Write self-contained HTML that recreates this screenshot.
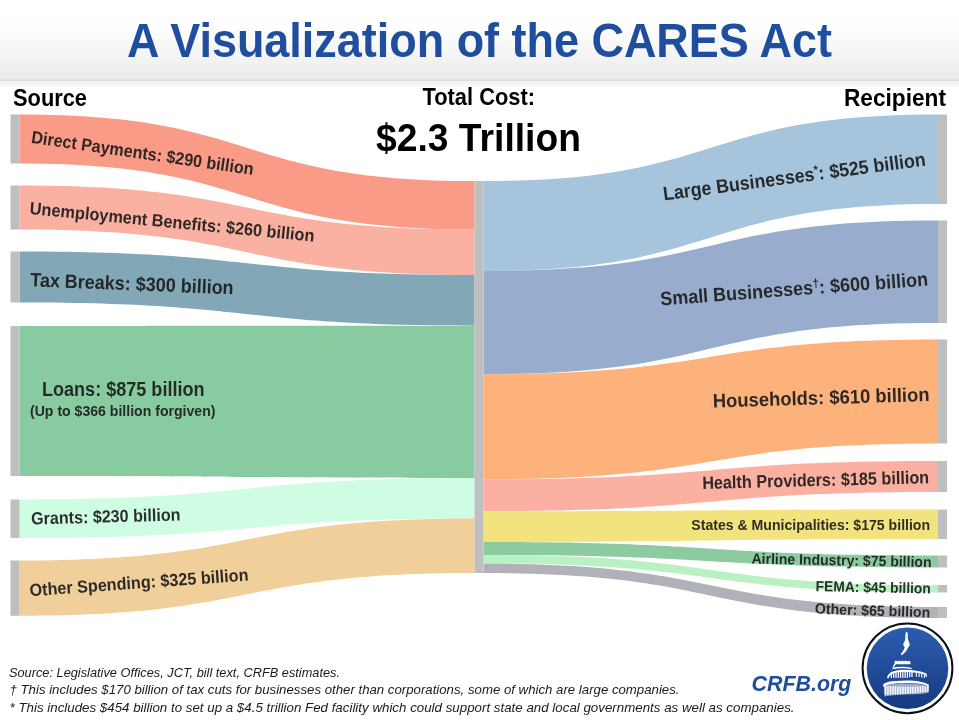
<!DOCTYPE html>
<html lang="en"><head><meta charset="utf-8"><title>A Visualization of the CARES Act</title>
<style>
html,body{margin:0;padding:0;background:#fff;}
body{width:959px;height:720px;overflow:hidden;font-family:"Liberation Sans",sans-serif;}
svg{display:block;}
svg text{font-family:"Liberation Sans",sans-serif;}
.lbl text{font-weight:700;fill:#1c1c1c;fill-opacity:.92;}
.hd{font-weight:700;fill:#000;}
.ft text{font-style:italic;fill:#1a1a1a;font-size:13px;}
</style></head><body>
<svg width="959" height="720" viewBox="0 0 959 720">
<defs>
<linearGradient id="hg" x1="0" y1="0" x2="0" y2="1">
<stop offset="0" stop-color="#ffffff"/><stop offset=".36" stop-color="#fefefe"/><stop offset="1" stop-color="#ebebeb"/>
</linearGradient>
<linearGradient id="sh" x1="0" y1="0" x2="0" y2="1">
<stop offset="0" stop-color="#f1f1f1"/><stop offset="1" stop-color="#ffffff"/>
</linearGradient>
<linearGradient id="lg" x1="0" y1="0" x2="0" y2="1">
<stop offset="0" stop-color="#2c5db0"/><stop offset="1" stop-color="#173a80"/>
</linearGradient>
</defs>
<rect x="0" y="0" width="959" height="720" fill="#fff"/>
<rect x="0" y="0" width="959" height="79.5" fill="url(#hg)"/>
<rect x="0" y="79.2" width="959" height="1.8" fill="#dcdcdc"/><rect x="0" y="81" width="959" height="8" fill="url(#sh)"/>
<text class="hd" x="127" y="57" font-size="48" textLength="705" lengthAdjust="spacingAndGlyphs" style="fill:#1f4e9e">A Visualization of the CARES Act</text>
<text class="hd" x="13" y="106" font-size="23.3" textLength="74" lengthAdjust="spacingAndGlyphs">Source</text>
<text class="hd" x="844" y="105.6" font-size="23.6" textLength="102" lengthAdjust="spacingAndGlyphs">Recipient</text>
<text class="hd" x="422.5" y="104.5" font-size="23.6" textLength="112.5" lengthAdjust="spacingAndGlyphs">Total Cost:</text>
<text class="hd" x="376" y="151.3" font-size="38.8" textLength="205" lengthAdjust="spacingAndGlyphs">$2.3 Trillion</text>
<g>
<path fill="#f99b87" d="M19.5,114.5 C260.6,114.5 233.3,181 474.5,181 L474.5,229.5 C233.3,229.5 260.6,163.5 19.5,163.5 Z"/>
<rect x="10.5" y="114.5" width="9.0" height="49.0" fill="#bfbfbf"/>
<path fill="#fbb1a2" d="M19.5,185.5 C260.6,185.5 233.3,229.5 474.5,229.5 L474.5,275 C233.3,275 260.6,229.5 19.5,229.5 Z"/>
<rect x="10.5" y="185.5" width="9.0" height="44.0" fill="#bfbfbf"/>
<path fill="#82a7b6" d="M19.5,251.5 C260.6,251.5 233.3,275 474.5,275 L474.5,325.7 C233.3,325.7 260.6,302.5 19.5,302.5 Z"/>
<rect x="10.5" y="251.5" width="9.0" height="51.0" fill="#bfbfbf"/>
<path fill="#89cba0" d="M19.5,326 C260.6,326 233.3,325.7 474.5,325.7 L474.5,478 C233.3,478 260.6,476 19.5,476 Z"/>
<rect x="10.5" y="326" width="9.0" height="150" fill="#bfbfbf"/>
<path fill="#cffde3" d="M19.5,499.5 C260.6,499.5 233.3,478 474.5,478 L474.5,518.5 C233.3,518.5 260.6,538 19.5,538 Z"/>
<rect x="10.5" y="499.5" width="9.0" height="38.5" fill="#bfbfbf"/>
<path fill="#f1cf9b" d="M19.5,560.5 C260.6,560.5 233.3,518.5 474.5,518.5 L474.5,573 C233.3,573 260.6,615.8 19.5,615.8 Z"/>
<rect x="10.5" y="560.5" width="9.0" height="55.299999999999955" fill="#bfbfbf"/>
<path fill="#a6c4dc" d="M483.5,181 C724.4,181 697.1,114.5 938,114.5 L938,204 C697.1,204 724.4,271 483.5,271 Z"/>
<rect x="938" y="114.5" width="9" height="89.5" fill="#bfbfbf"/>
<path fill="#98adcd" d="M483.5,271 C724.4,271 697.1,220.5 938,220.5 L938,323 C697.1,323 724.4,374.3 483.5,374.3 Z"/>
<rect x="938" y="220.5" width="9" height="102.5" fill="#bfbfbf"/>
<path fill="#fdb27c" d="M483.5,374.3 C724.4,374.3 697.1,339.5 938,339.5 L938,443.5 C697.1,443.5 724.4,479.3 483.5,479.3 Z"/>
<rect x="938" y="339.5" width="9" height="104.0" fill="#bfbfbf"/>
<path fill="#fbb0a2" d="M483.5,479.3 C724.4,479.3 697.1,461 938,461 L938,492 C697.1,492 724.4,511.2 483.5,511.2 Z"/>
<rect x="938" y="461" width="9" height="31" fill="#bfbfbf"/>
<path fill="#f2e37f" d="M483.5,511.2 C724.4,511.2 697.1,509.5 938,509.5 L938,539 C697.1,539 724.4,542 483.5,542 Z"/>
<rect x="938" y="509.5" width="9" height="29.5" fill="#bfbfbf"/>
<path fill="#8ccb9f" d="M483.5,542 C724.4,542 697.1,555.5 938,555.5 L938,567.5 C697.1,567.5 724.4,555 483.5,555 Z"/>
<rect x="938" y="555.5" width="9" height="12.0" fill="#bfbfbf"/>
<path fill="#b9f1c2" d="M483.5,555 C724.4,555 697.1,585 938,585 L938,592.5 C697.1,592.5 724.4,563.5 483.5,563.5 Z"/>
<rect x="938" y="585" width="9" height="7.5" fill="#bfbfbf"/>
<path fill="#b1b1b9" d="M483.5,563.5 C724.4,563.5 697.1,607 938,607 L938,618 C697.1,618 724.4,573 483.5,573 Z"/>
<rect x="938" y="607" width="9" height="11" fill="#bfbfbf"/>
<rect x="474.5" y="181" width="9.0" height="392" fill="#bfbfbf"/>
</g>
<g class="lbl">
<text transform="translate(30.7,142.7) rotate(8.28)" font-size="17.5" textLength="224.3" lengthAdjust="spacingAndGlyphs" >Direct Payments: $290 billion</text>
<text transform="translate(29.3,214) rotate(5.56)" font-size="17.5" textLength="286" lengthAdjust="spacingAndGlyphs" >Unemployment Benefits: $260 billion</text>
<text transform="translate(30,286.3) rotate(2.25)" font-size="19.4" textLength="203.5" lengthAdjust="spacingAndGlyphs" >Tax Breaks: $300 billion</text>
<text transform="translate(42,396.2) rotate(0)" font-size="19.4" textLength="162.5" lengthAdjust="spacingAndGlyphs" >Loans: $875 billion</text>
<text transform="translate(30,416.4) rotate(0)" font-size="14.6" textLength="185.5" lengthAdjust="spacingAndGlyphs" >(Up to $366 billion forgiven)</text>
<text transform="translate(31.3,524.6) rotate(-1.63)" font-size="17.5" textLength="149.3" lengthAdjust="spacingAndGlyphs" >Grants: $230 billion</text>
<text transform="translate(30,596.3) rotate(-4.12)" font-size="17.5" textLength="219.3" lengthAdjust="spacingAndGlyphs" >Other Spending: $325 billion</text>
<text transform="translate(664,200.5) rotate(-7.6)" font-size="19.4" textLength="264.6" lengthAdjust="spacingAndGlyphs" >Large Businesses<tspan font-size="12" dy="-6.5">*</tspan><tspan dy="6.5">: $525 billion</tspan></text>
<text transform="translate(660.7,305.5) rotate(-4.27)" font-size="19.4" textLength="268.4" lengthAdjust="spacingAndGlyphs" >Small Businesses<tspan font-size="12" dy="-6.5">†</tspan><tspan dy="6.5">: $600 billion</tspan></text>
<text transform="translate(713,407.6) rotate(-1.76)" font-size="19.4" textLength="216.8" lengthAdjust="spacingAndGlyphs" >Households: $610 billion</text>
<text transform="translate(702.4,489.0) rotate(-1.47)" font-size="17.8" textLength="226.9" lengthAdjust="spacingAndGlyphs" >Health Providers: $185 billion</text>
<text transform="translate(691.3,529.6) rotate(0)" font-size="14.6" textLength="238.8" lengthAdjust="spacingAndGlyphs" >States &amp; Municipalities: $175 billion</text>
<text transform="translate(751.4,563.6) rotate(1.1)" font-size="14.8" textLength="180.1" lengthAdjust="spacingAndGlyphs" >Airline Industry: $75 billion</text>
<text transform="translate(815.6,591.2) rotate(1.15)" font-size="14.8" textLength="115.1" lengthAdjust="spacingAndGlyphs" >FEMA: $45 billion</text>
<text transform="translate(814.8,613.6) rotate(1.9)" font-size="14.8" textLength="115.4" lengthAdjust="spacingAndGlyphs" >Other: $65 billion</text>
</g>
<g class="ft">
<text x="9" y="676.5" textLength="331" lengthAdjust="spacingAndGlyphs">Source: Legislative Offices, JCT, bill text, CRFB estimates.</text>
<text x="9.5" y="693.8" textLength="670" lengthAdjust="spacingAndGlyphs">† This includes $170 billion of tax cuts for businesses other than corporations, some of which are large companies.</text>
<text x="9.5" y="711.8" textLength="785" lengthAdjust="spacingAndGlyphs">* This includes $454 billion to set up a $4.5 trillion Fed facility which could support state and local governments as well as companies.</text>
</g>
<text x="751.6" y="691.4" font-size="22" font-weight="700" font-style="italic" fill="#1f4e9e" textLength="99.8" lengthAdjust="spacingAndGlyphs">CRFB.org</text>
<g id="logo">
<circle cx="907.5" cy="668.3" r="44.9" fill="#fff" stroke="#0a0f20" stroke-width="2"/>
<circle cx="907.5" cy="668.3" r="40.8" fill="url(#lg)"/>
<g transform="translate(877,626) scale(0.104167)" fill="#fff" stroke="none">
<path d="M285,52 C296,60 298,90 294,112 C300,130 304,150 312,168 C318,182 312,196 300,204 C292,224 280,242 262,260 C252,272 240,282 230,276 C226,266 240,256 250,240 C260,224 266,208 264,196 C252,190 246,176 256,164 C266,150 270,132 272,112 C270,90 274,62 285,52 Z"/>
<path d="M170,338 L182,332 L196,340 L210,332 L226,340 L242,332 L258,340 L276,332 L292,340 L306,334 L320,340 L322,366 L168,366 Z"/>
<path d="M168,360 L150,392 L160,396 L182,366 Z"/>
<path d="M150,398 C210,388 280,390 332,402 L334,416 C280,404 210,404 148,414 Z"/>
<path d="M96,500 C100,462 130,436 200,424 C290,414 400,424 474,456 L482,484 L470,486 L464,470 C400,444 290,436 204,444 C150,452 122,470 112,502 Z"/>
<rect x="132" y="440" width="12" height="58"/>
<rect x="154" y="440" width="12" height="58"/>
<rect x="176" y="440" width="12" height="58"/>
<rect x="198" y="440" width="12" height="58"/>
<rect x="220" y="440" width="12" height="58"/>
<rect x="242" y="440" width="12" height="58"/>
<rect x="264" y="440" width="12" height="58"/>
<rect x="286" y="440" width="12" height="58"/>
<rect x="308" y="440" width="12" height="50"/>
<rect x="330" y="440" width="12" height="50"/>
<rect x="372" y="452" width="11" height="34"/>
<rect x="398" y="456" width="11" height="34"/>
<rect x="424" y="460" width="11" height="34"/>
<rect x="450" y="465" width="11" height="34"/>
<path d="M58,566 C70,540 120,524 280,522 C380,522 450,536 496,562 L498,580 C450,556 380,546 280,546 C150,548 90,560 62,586 Z"/>
<path d="M66,580 C120,556 200,552 280,552 C380,552 450,560 494,584 L492,640 C440,650 380,654 300,656 C200,660 120,668 72,676 Z" fill-opacity=".55"/>
<rect x="74" y="576" width="14" height="84"/>
<rect x="98" y="576" width="14" height="83"/>
<rect x="122" y="577" width="14" height="81"/>
<rect x="146" y="578" width="14" height="79"/>
<rect x="170" y="579" width="14" height="78"/>
<rect x="194" y="580" width="14" height="76"/>
<rect x="218" y="580" width="14" height="74"/>
<rect x="242" y="581" width="14" height="72"/>
<rect x="266" y="582" width="14" height="71"/>
<rect x="290" y="582" width="14" height="69"/>
<rect x="314" y="581" width="14" height="67"/>
<rect x="338" y="581" width="14" height="66"/>
<rect x="362" y="580" width="14" height="64"/>
<rect x="386" y="579" width="14" height="62"/>
<rect x="410" y="578" width="14" height="60"/>
<rect x="434" y="577" width="14" height="59"/>
<rect x="458" y="577" width="14" height="57"/>
<rect x="482" y="576" width="14" height="55"/>
</g>
</g>
</svg>
</body></html>
